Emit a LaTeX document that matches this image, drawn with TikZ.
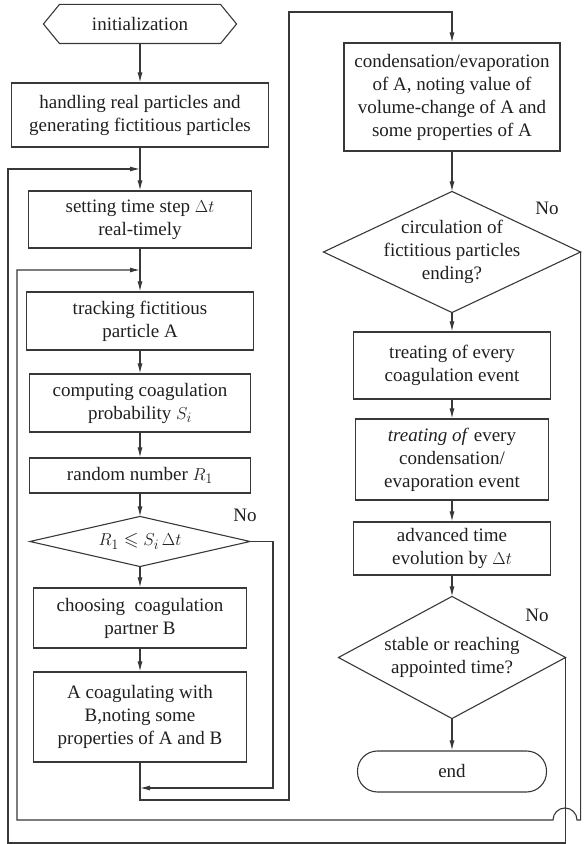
\documentclass[tikz,border=0pt]{standalone}
\usepackage{amssymb}
\usepackage{fontspec}
\setmainfont{Liberation Serif}
\usetikzlibrary{arrows.meta}
\colorlet{ink}{black!78}

\begin{document}
\begin{tikzpicture}[x=1pt,y=1pt,font=\fontsize{19}{23}\selectfont,line width=1.1pt,
    every node/.style={text=black!88},
    box/.style={draw=ink,align=center,inner sep=0pt},
    dec/.style={align=center,inner sep=0pt},
    arr/.style={draw=ink,-{Latex[length=10pt,width=5pt]}}]
    \useasboundingbox (0,0) rectangle (585,844);
    \node[dec,minimum width=192,minimum height=38] (init) at (140,820){initialization};
    \node[box,minimum width=257,minimum height=64] (handle) at (140,729){handling real particles and\\generating fictitious particles};
    \node[box,minimum width=223,minimum height=57] (set) at (140,624.5){setting time step $\Delta t$\\real-timely};
    \node[box,minimum width=227,minimum height=58] (track) at (140,523){tracking fictitious\\particle A};
    \node[box,minimum width=221,minimum height=58] (comp) at (140,441){computing coagulation\\probability $S_i$};
    \node[box,minimum width=221,minimum height=35] (rand) at (140,368.5){random number $R_1$};
    \node[dec,minimum width=219,minimum height=49] (cmp) at (140,302.5){$R_1\leqslant S_i\,\Delta t$};
    \node[box,minimum width=213,minimum height=60] (choose) at (140,226){choosing\ \ coagulation\\partner B};
    \node[box,minimum width=213,minimum height=90] (coag) at (140,127){A coagulating with\\B,noting some\\properties of A and B};
    \node[box,minimum width=216,minimum height=108] (cond) at (452,747){condensation/evaporation\\of A, noting value of\\volume-change of A and\\some properties of A};
    \node[dec,minimum width=256,minimum height=120] (circ) at (452,592){circulation of\\fictitious particles\\ending?};
    \node[box,minimum width=197,minimum height=67] (treat1) at (452,478.5){treating of every\\coagulation event};
    \node[box,minimum width=193,minimum height=81] (treat2) at (452,384.5){\textit{treating of} every\\condensation/\\evaporation event};
    \node[box,minimum width=197,minimum height=53] (adv) at (452,295.5){advanced time\\evolution by $\Delta t$};
    \node[dec,minimum width=226,minimum height=121] (stable) at (452,186.5){stable or reaching\\appointed time?};
    \node[box,rounded corners=20pt,minimum width=189,minimum height=41] (end) at (452,72.5){end};
    \node (no1) at (245,329){No};
    \node (no2) at (547,636){No};
    \node (no3) at (537,229){No};
    \draw[ink] ([xshift=16]init.north west)--([xshift=-16]init.north east)--(init.east)
      --([xshift=-16]init.south east)--([xshift=16]init.south west)--(init.west)--cycle;
    \foreach \n in {cmp,circ,stable}
      \draw[ink] (\n.north)--(\n.east)--(\n.south)--(\n.west)--cycle;
    \coordinate (j1) at (140,675);
    \coordinate (j2) at (140,574);
    \coordinate (j3) at (140,56);
    \foreach \a/\b in {init/handle,handle/set,set/track,track/comp,comp/rand,rand/cmp,cmp/choose,
      choose/coag,cond/circ,circ/treat1,treat1/treat2,treat2/adv,adv/stable,stable/end}
      \draw[arr] (\a)--(\b);
    \draw[arr] (stable.east) |- (8,1) |- (j1);
    \draw[arr] (circ.east) |- (577,24) arc[start angle=0,end angle=180,radius=12] -- (17,24) |- (j2);
    \draw[arr] (cmp.east) -| (273,56) -- (j3);
    \draw[arr] (coag.south) |- (289,44) |- (cond.north |- 0,832) -- (cond.north);
\end{tikzpicture}
\end{document}
